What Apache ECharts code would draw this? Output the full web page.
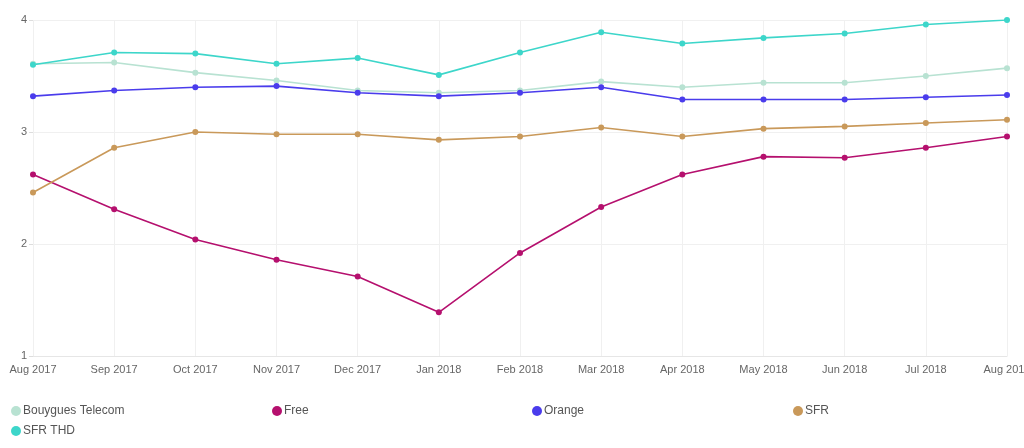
<!DOCTYPE html>
<html>
<head>
<meta charset="utf-8">
<script src="https://cdn.jsdelivr.net/npm/echarts@6/dist/echarts.min.js"></script>
<style>
  html, body { margin: 0; padding: 0; background: #fff; }
  #main { width: 1024px; height: 448px; }
</style>
</head>
<body>
<div id="main"></div>
<script>
// mois
var months = ['Aug 2017', 'Sep 2017', 'Oct 2017', 'Nov 2017', 'Dec 2017', 'Jan 2018',
              'Feb 2018', 'Mar 2018', 'Apr 2018', 'May 2018', 'Jun 2018', 'Jul 2018', 'Aug 2018'];

// valeurs par opérateur
var bouygues = [3.61, 3.62, 3.53, 3.46, 3.37, 3.35, 3.37, 3.45, 3.40, 3.44, 3.44, 3.50, 3.57];
var free     = [2.62, 2.31, 2.04, 1.86, 1.71, 1.39, 1.92, 2.33, 2.62, 2.78, 2.77, 2.86, 2.96];
var orange   = [3.32, 3.37, 3.40, 3.41, 3.35, 3.32, 3.35, 3.40, 3.29, 3.29, 3.29, 3.31, 3.33];
var sfr      = [2.46, 2.86, 3.00, 2.98, 2.98, 2.93, 2.96, 3.04, 2.96, 3.03, 3.05, 3.08, 3.11];
var sfrThd   = [3.60, 3.71, 3.70, 3.61, 3.66, 3.51, 3.71, 3.89, 3.79, 3.84, 3.88, 3.96, 4.00];

var names  = ['Bouygues Telecom', 'Free', 'Orange', 'SFR', 'SFR THD'];
var colors = ['#b8e2d2', '#b5106e', '#4a3cec', '#c9995a', '#3dd6ca'];
var values = [bouygues, free, orange, sfr, sfrThd];

var myChart = echarts.init(document.getElementById('main'));

// une légende par opérateur pour garder les colonnes
var legendPos = [[6, 400], [267, 400], [527, 400], [788, 400], [6, 420]];
var legends = names.map(function (n, i) {
    return {
        data: [n],
        left: legendPos[i][0],
        top: legendPos[i][1],
        icon: 'circle',
        itemWidth: 10,
        itemHeight: 10,
        itemGap: 0,
        textStyle: { color: '#555', fontSize: 12, fontFamily: 'Liberation Sans', padding: [0, 0, 0, -3] }
    };
});

var series = names.map(function (n, i) {
    return {
        name: n,
        type: 'line',
        data: values[i],
        symbol: 'circle',
        symbolSize: 6,
        color: colors[i],
        lineStyle: { width: 1.6 }
    };
});

var option = {
    animation: false,
    legend: legends,
    grid: { left: 33, right: 17, top: 20, bottom: 92, outerBoundsMode: 'none' },
    xAxis: {
        type: 'category',
        data: months,
        boundaryGap: false,
        axisLine: { lineStyle: { color: '#e6e6e6' } },
        axisTick: { show: false },
        axisLabel: { color: '#666', fontSize: 11, fontFamily: 'Liberation Sans', margin: 8 },
        splitLine: { show: true, lineStyle: { color: '#f0f0f0' } }
    },
    yAxis: {
        type: 'value',
        min: 1,
        max: 4,
        interval: 1,
        axisLine: { show: false },
        axisTick: { show: true, length: 4, lineStyle: { color: '#ddd' } },
        axisLabel: { color: '#666', fontSize: 11, fontFamily: 'Liberation Sans', margin: 6 },
        splitLine: { lineStyle: { color: '#f0f0f0' } }
    },
    series: series
};
myChart.setOption(option);
</script>
</body>
</html>
